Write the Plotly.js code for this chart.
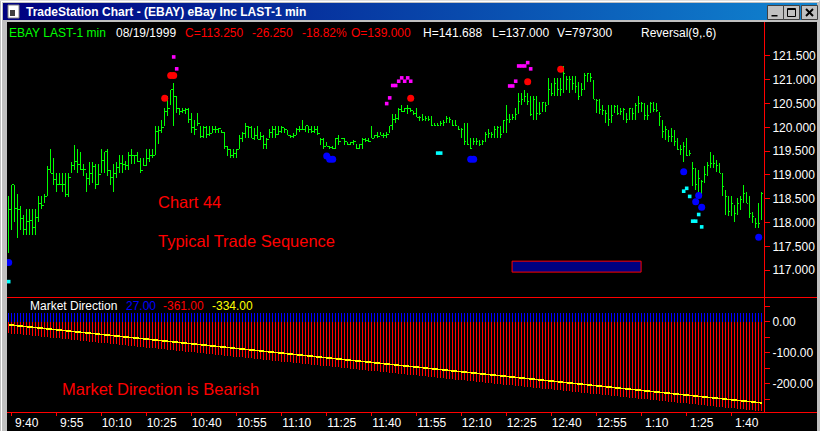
<!DOCTYPE html>
<html><head><meta charset="utf-8">
<script src="https://cdn.plot.ly/plotly-3.0.1.min.js"></script>
<style>
html,body{margin:0;padding:0;background:#c0c0c0;overflow:hidden;}
#wrap{position:relative;width:820px;height:431px;background:#c0c0c0;}
#hl1{position:absolute;left:0;top:0;width:820px;height:1px;background:#dfdfdf;}
#hl2{position:absolute;left:1px;top:1px;width:818px;height:1px;background:#fff;}
#vl1{position:absolute;left:1px;top:1px;width:1px;height:430px;background:#fff;}
#tb{position:absolute;left:3px;top:3px;width:814px;height:17px;background:linear-gradient(to right,#000080,#1084d0);}
#blk{position:absolute;left:7px;top:22px;width:810px;height:409px;background:#000;}
#chart{position:absolute;left:0;top:0;width:820px;height:431px;}
path.js-line{shape-rendering:crispEdges;}
</style></head>
<body>
<div id="wrap"><div id="hl1"></div><div id="hl2"></div><div id="vl1"></div><div id="tb"></div><div id="blk"></div><div id="chart"></div></div>
<script>
// ---------------- data ----------------
const firstBarTime = "9:39";
const timeLabels = ["9:40","9:55","10:10","10:25","10:40","10:55","11:10","11:25","11:40","11:55","12:10","12:25","12:40","12:55","1:10","1:25","1:40"];
const priceTickVals = [117,117.5,118,118.5,119,119.5,120,120.5,121,121.5];
const priceTickText = ["117.000","117.500","118.000","118.500","119.000","119.500","120.000","120.500","121.000","121.500"];
const mdTickVals = [50,0,-50,-100,-150,-200,-250];
const mdTickText = ["","0.00","","-100.00","","-200.00",""];

const high = [
118.55,118.79,118.79,118.60,118.35,118.16,118.28,118.28,118.28,118.28,
118.55,118.55,118.60,119.18,119.55,119.35,119.04,119.04,119.04,119.04,
119.04,119.28,119.63,119.55,119.49,119.23,119.04,119.28,119.28,119.23,
119.23,119.55,119.49,119.55,119.11,119.23,119.28,119.41,119.41,119.29,
119.49,119.55,119.41,119.49,119.35,119.35,119.55,119.55,119.55,120.03,
120.03,120.16,120.40,120.65,120.79,120.93,120.65,120.40,120.40,120.40,
120.40,120.30,120.16,120.30,120.03,120.03,120.03,120.03,120.03,120.03,
119.98,119.95,119.91,119.61,119.54,119.54,119.54,119.84,119.91,120.09,
120.03,120.03,119.98,120.03,119.91,119.84,119.78,119.96,120.03,120.03,
120.03,120.03,119.98,119.95,119.84,119.89,119.98,120.03,120.16,120.03,
120.03,120.03,120.03,120.03,119.77,119.77,119.70,119.61,119.61,119.77,
119.84,119.77,119.77,119.70,119.70,119.74,119.65,119.65,119.77,119.77,
119.77,120.03,119.84,119.91,119.91,119.89,119.91,120.03,120.28,120.28,
120.40,120.47,120.40,120.47,120.40,120.35,120.40,120.23,120.28,120.23,
120.23,120.23,120.09,120.09,120.14,120.16,120.23,120.21,120.16,120.16,
120.03,119.98,120.09,120.09,119.77,119.77,119.77,119.74,119.74,119.91,
119.96,119.91,120.03,120.03,120.03,120.16,120.47,120.28,120.28,120.40,
120.72,120.72,120.79,120.72,120.65,120.65,120.65,120.54,120.54,120.54,
121.03,120.93,121.03,121.03,121.03,121.28,121.07,121.07,121.07,121.07,
120.96,120.93,121.15,121.15,121.15,121.00,120.59,120.59,120.47,120.37,
120.47,120.47,120.47,120.47,120.40,120.40,120.30,120.40,120.40,120.51,
120.65,120.54,120.51,120.47,120.54,120.54,120.52,120.33,120.16,120.02,
119.95,119.98,119.95,119.77,119.63,119.70,119.77,119.53,119.28,119.14,
119.11,118.90,119.18,119.28,119.49,119.42,119.32,119.25,119.04,118.69,
118.55,118.55,118.37,118.51,118.55,118.79,118.65,118.55,118.23,118.09,
118.41,118.65];
const low = [
117.37,117.85,118.02,117.68,117.85,117.75,117.75,117.75,117.75,117.75,
118.02,118.28,118.41,118.55,119.04,118.79,118.65,118.79,118.65,118.53,
118.53,119.04,119.11,119.04,119.11,118.98,118.65,118.79,118.84,118.71,
118.79,119.04,119.04,118.98,118.79,118.65,118.93,119.04,119.04,119.11,
119.11,119.23,119.23,119.28,119.04,119.18,119.18,119.28,119.35,119.41,
119.65,119.88,120.02,120.23,120.47,120.02,120.30,120.26,120.30,120.28,
120.09,119.89,119.84,120.03,119.77,119.77,119.77,119.82,119.88,119.88,
119.88,119.88,119.54,119.40,119.35,119.35,119.35,119.54,119.70,119.77,
119.77,119.77,119.74,119.75,119.74,119.54,119.54,119.77,119.77,119.77,
119.84,119.88,119.88,119.84,119.77,119.77,119.84,119.91,119.95,119.91,
119.89,119.89,119.89,119.84,119.63,119.54,119.60,119.54,119.54,119.54,
119.63,119.75,119.63,119.63,119.63,119.63,119.54,119.54,119.54,119.70,
119.70,119.77,119.77,119.77,119.84,119.77,119.77,119.88,119.95,120.09,
120.16,120.33,120.33,120.28,120.33,120.26,120.21,120.14,120.14,120.14,
120.14,120.02,120.02,120.02,120.02,120.03,120.09,120.09,120.02,120.02,
119.95,119.77,119.63,119.63,119.54,119.63,119.63,119.60,119.63,119.70,
119.77,119.77,119.77,119.77,119.77,119.89,119.89,120.09,120.16,120.16,
120.28,120.47,120.54,120.47,120.23,120.16,120.16,120.26,120.33,120.33,
120.47,120.65,120.65,120.65,120.65,120.72,120.79,120.72,120.79,120.72,
120.58,120.65,120.79,120.96,120.96,120.59,120.30,120.28,120.26,120.09,
120.02,120.09,120.30,120.26,120.26,120.16,120.09,120.16,120.16,120.16,
120.30,120.33,120.16,120.16,120.30,120.33,120.33,120.02,119.77,119.74,
119.70,119.70,119.60,119.53,119.42,119.28,119.39,119.39,118.76,118.69,
118.65,118.55,118.83,118.97,119.14,119.14,119.07,119.04,118.55,118.16,
118.13,118.13,118.02,118.16,118.27,118.41,118.41,118.09,117.99,117.88,
117.88,118.06];
const close = [
118.28,118.79,118.30,118.28,118.09,117.85,118.02,118.05,117.90,118.10,
118.40,118.35,118.55,119.11,119.04,118.90,118.79,118.79,118.79,118.60,
118.95,119.20,119.28,119.23,119.11,119.11,118.93,119.04,119.18,118.80,
119.00,119.30,119.49,119.10,118.95,119.04,119.15,119.25,119.23,119.20,
119.41,119.41,119.41,119.28,119.10,119.20,119.35,119.41,119.41,119.91,
119.94,120.00,120.33,120.40,120.79,120.65,120.40,120.33,120.35,120.38,
120.16,120.00,119.95,120.09,119.80,120.00,119.85,119.88,119.95,119.95,
119.98,119.90,119.60,119.54,119.40,119.45,119.54,119.77,119.88,120.02,
120.00,119.77,119.84,119.75,119.80,119.65,119.74,119.90,119.96,119.85,
119.91,120.00,119.95,119.84,119.80,119.84,119.96,119.95,119.96,120.03,
119.95,119.92,119.95,119.88,119.74,119.60,119.60,119.58,119.56,119.77,
119.70,119.76,119.70,119.65,119.68,119.70,119.56,119.65,119.74,119.72,
119.70,119.77,119.84,119.80,119.84,119.84,119.85,120.03,120.16,120.19,
120.37,120.33,120.40,120.40,120.35,120.30,120.21,120.21,120.16,120.18,
120.16,120.03,120.03,120.05,120.09,120.10,120.19,120.16,120.05,120.03,
119.96,119.95,119.70,119.65,119.56,119.70,119.70,119.65,119.70,119.85,
119.88,119.85,119.96,120.00,119.85,120.14,120.16,120.16,120.20,120.28,
120.55,120.59,120.65,120.54,120.28,120.58,120.30,120.30,120.53,120.45,
120.79,120.72,120.93,120.80,120.79,121.14,121.00,121.00,120.93,120.85,
120.65,120.79,121.10,121.14,121.05,120.59,120.56,120.37,120.35,120.30,
120.16,120.25,120.44,120.30,120.33,120.37,120.16,120.40,120.30,120.47,
120.51,120.51,120.26,120.25,120.51,120.37,120.35,120.23,119.91,119.95,
119.80,119.81,119.70,119.54,119.53,119.60,119.42,119.45,119.14,118.79,
118.93,118.86,119.00,119.21,119.25,119.25,119.21,119.04,118.76,118.55,
118.23,118.41,118.20,118.41,118.48,118.62,118.41,118.20,118.13,117.99,
117.99,118.62];

// Reversal(9,.6) signal marks: bar index and price
const redBar = [52,54,55,134,173,184];
const redPrice = [120.61,121.09,121.09,120.61,120.96,121.22];
const blueBar = [0,106,107,108,154,155,225,229,230,231,250];
const bluePrice = [117.16,119.40,119.33,119.33,119.33,119.33,119.07,118.44,118.57,118.32,117.69];
const magentaBar = [55,56,126,127,128,129,130,131,132,133,134,167,168,169,170,171,172,173,174];
const magentaPrice = [121.48,121.23,120.50,120.62,120.88,120.88,120.97,121.04,120.97,121.04,120.97,120.87,120.87,120.97,121.29,121.29,121.29,121.36,121.23];
const cyanBar = [0,143,144,225,226,227,228,229,230,231];
const cyanPrice = [116.76,119.46,119.46,118.66,118.72,118.55,118.03,118.03,118.17,117.91];

// Market Direction panel
const mdUp = [
27,27,27,27,27,27,27,27,27,27,27,27,27,27,27,27,27,27,27,27,
27,27,27,27,27,27,27,27,27,27,27,27,27,27,27,27,27,27,27,27,
27,27,27,27,27,27,27,27,27,27,27,27,27,27,27,27,27,27,27,27,
27,27,27,27,27,27,27,27,27,27,27,27,27,27,27,27,27,27,27,27,
27,27,27,27,27,27,27,27,27,27,27,27,27,27,27,27,27,27,27,27,
27,27,27,27,27,27,27,27,27,27,27,27,27,27,27,27,27,27,27,27,
27,27,27,27,27,27,27,27,27,27,27,27,27,27,27,27,27,27,27,27,
27,27,27,27,27,27,27,27,27,27,27,27,27,27,27,27,27,27,27,27,
27,27,27,27,27,27,27,27,27,27,27,27,27,27,27,27,27,27,27,27,
27,27,27,27,27,27,27,27,27,27,27,27,27,27,27,27,27,27,27,27,
27,27,27,27,27,27,27,27,27,27,27,27,27,27,27,27,27,27,27,27,
27,27,27,27,27,27,27,27,27,27,27,27,27,27,27,27,27,27,27,27,
27,27,27,27,27,27,27,27,27,27,27,27];
const mdDown = [
-37,-38,-39,-40,-41,-42,-43,-44,-45,-46,-47,-48,-49,-50,-51,-52,-53,-54,-55,-56,
-57,-58,-59,-60,-61,-62,-63,-64,-65,-66,-67,-68,-69,-70,-71,-72,-73,-74,-75,-76,
-77,-78,-79,-80,-81,-82,-83,-84,-85,-86,-87,-88,-89,-90,-91,-92,-93,-94,-95,-96,
-97,-98,-99,-100,-101,-102,-103,-104,-105,-106,-107,-108,-109,-110,-111,-112,-113,-114,-115,-116,
-117,-118,-119,-120,-121,-122,-123,-124,-125,-126,-127,-128,-129,-130,-131,-132,-133,-134,-135,-136,
-137,-138,-139,-140,-141,-142,-143,-144,-145,-146,-147,-148,-149,-150,-151,-152,-153,-154,-155,-156,
-157,-158,-159,-160,-161,-162,-163,-164,-165,-166,-167,-168,-169,-170,-171,-172,-173,-174,-175,-176,
-177,-178,-179,-180,-181,-182,-183,-184,-185,-186,-187,-188,-189,-190,-191,-192,-193,-194,-195,-196,
-197,-198,-199,-200,-201,-202,-203,-204,-205,-206,-207,-208,-209,-210,-211,-212,-213,-214,-215,-216,
-217,-218,-219,-220,-221,-222,-223,-224,-225,-226,-227,-228,-229,-230,-231,-232,-233,-234,-235,-236,
-237,-238,-239,-240,-241,-242,-243,-244,-245,-246,-247,-248,-249,-250,-251,-252,-253,-254,-255,-256,
-257,-258,-259,-260,-261,-262,-263,-264,-265,-266,-267,-268,-269,-270,-271,-272,-273,-274,-275,-276,
-277,-278,-279,-280,-281,-282,-283,-284,-285,-286,-287,-288];
const mdNet = [
-10,-11,-12,-13,-14,-15,-16,-17,-18,-19,-20,-21,-22,-23,-24,-25,-26,-27,-28,-29,
-30,-31,-32,-33,-34,-35,-36,-37,-38,-39,-40,-41,-42,-43,-44,-45,-46,-47,-48,-49,
-50,-51,-52,-53,-54,-55,-56,-57,-58,-59,-60,-61,-62,-63,-64,-65,-66,-67,-68,-69,
-70,-71,-72,-73,-74,-75,-76,-77,-78,-79,-80,-81,-82,-83,-84,-85,-86,-87,-88,-89,
-90,-91,-92,-93,-94,-95,-96,-97,-98,-99,-100,-101,-102,-103,-104,-105,-106,-107,-108,-109,
-110,-111,-112,-113,-114,-115,-116,-117,-118,-119,-120,-121,-122,-123,-124,-125,-126,-127,-128,-129,
-130,-131,-132,-133,-134,-135,-136,-137,-138,-139,-140,-141,-142,-143,-144,-145,-146,-147,-148,-149,
-150,-151,-152,-153,-154,-155,-156,-157,-158,-159,-160,-161,-162,-163,-164,-165,-166,-167,-168,-169,
-170,-171,-172,-173,-174,-175,-176,-177,-178,-179,-180,-181,-182,-183,-184,-185,-186,-187,-188,-189,
-190,-191,-192,-193,-194,-195,-196,-197,-198,-199,-200,-201,-202,-203,-204,-205,-206,-207,-208,-209,
-210,-211,-212,-213,-214,-215,-216,-217,-218,-219,-220,-221,-222,-223,-224,-225,-226,-227,-228,-229,
-230,-231,-232,-233,-234,-235,-236,-237,-238,-239,-240,-241,-242,-243,-244,-245,-246,-247,-248,-249,
-250,-251,-252,-253,-254,-255,-256,-257,-258,-259,-260,-261];

// ---------------- build ----------------
function toMin(s){const p=s.split(":");let h=+p[0];if(h<9)h+=12;return h*60+(+p[1]);}
const t0 = toMin(firstBarTime);
const tickPos = timeLabels.map(s=>toMin(s)-t0);
const n = high.length;

// HLC bars as vertical segment + right close tick
const bx=[],by=[];
for(let i=0;i<n;i++){bx.push(i,i,null,i,i+0.6,null);by.push(low[i],high[i],null,close[i],close[i],null);}
function stems(vals){const x=[],y=[];vals.forEach((v,i)=>{x.push(i,i,null);y.push(0,v,null);});return {x,y};}
const up=stems(mdUp), dn=stems(mdDown);
const idx=mdNet.map((v,i)=>i);

// page pixel -> paper helpers (plot area 7..764 x 22..412)
const L=7,R=764,T=22,B=412;
const px=x=>(x-L)/(R-L), py=y=>(B-y)/(B-T);
const FF='Liberation Sans, Arial, sans-serif';

const traces=[
 {type:'scatter',mode:'lines',x:bx,y:by,xaxis:'x',yaxis:'y',line:{color:'#00ff00',width:1},hoverinfo:'skip',connectgaps:false},
 {type:'scatter',mode:'markers',x:redBar,y:redPrice,yaxis:'y',marker:{symbol:'circle',size:7,color:'#ff0000'}},
 {type:'scatter',mode:'markers',x:blueBar,y:bluePrice,yaxis:'y',marker:{symbol:'circle',size:7,color:'#0000ff'}},
 {type:'scatter',mode:'markers',x:magentaBar,y:magentaPrice,yaxis:'y',marker:{symbol:'square',size:3.6,color:'#ff00ff'}},
 {type:'scatter',mode:'markers',x:cyanBar,y:cyanPrice,yaxis:'y',marker:{symbol:'square',size:3.6,color:'#00ffff'}},
 {type:'scatter',mode:'lines',x:up.x,y:up.y,yaxis:'y2',line:{color:'#0000ff',width:1},connectgaps:false},
 {type:'scatter',mode:'lines',x:dn.x,y:dn.y,yaxis:'y2',line:{color:'#ff0000',width:1},connectgaps:false},
 {type:'scatter',mode:'lines',x:idx,y:mdNet,yaxis:'y2',line:{color:'#ffff00',width:1.6}}
];

function ann(text,x,y,color,size,extra){return Object.assign({text:text,xref:'paper',yref:'paper',x:px(x),y:py(y),xanchor:'left',yanchor:'middle',showarrow:false,font:{family:FF,size:size,color:color},borderpad:0},extra||{});}
const annotations=[
 ann('<b>TradeStation Chart - (EBAY) eBay Inc LAST-1 min</b>',25,12,'#ffffff',12),
 ann('EBAY LAST-1 min',7.5,33,'#00ff00',12),
 ann('08/19/1999',115,33,'#ffffff',12),
 ann('C=113.250',184,33,'#ff0000',12),
 ann('-26.250',251,33,'#ff0000',12),
 ann('-18.82%',301,33,'#ff0000',12),
 ann('O=139.000',349.5,33,'#ff0000',12),
 ann('H=141.688',422,33,'#ffffff',12),
 ann('L=137.000',490.5,33,'#ffffff',12),
 ann('V=797300',555.5,33,'#ffffff',12),
 ann('Reversal(9,.6)',639.5,33,'#ffffff',12),
 ann('Chart 44',157,202,'#ff0000',16.5),
 ann('Typical Trade Sequence',157,241,'#ff0000',16.5),
 ann('Market Direction',29,306,'#ffffff',12),
 ann('27.00',124.5,306,'#0000ff',12),
 ann('-361.00',161.5,306,'#ff0000',12),
 ann('-334.00',210.5,306,'#ffff00',12),
 ann('Market Direction is Bearish',61,389,'#ff0000',16.5)
];

const shapes=[
 // navy drawing box
 {type:'rect',xref:'x',yref:'y',x0:167.8,x1:210.8,y0:116.96,y1:117.19,fillcolor:'#000080',line:{color:'#ff0000',width:1}},
 // panel separator and bottom frame line
 {type:'line',xref:'paper',yref:'paper',x0:0,x1:px(817),y0:py(297.5),y1:py(297.5),line:{color:'#ff0000',width:1}},
 {type:'line',xref:'paper',yref:'paper',x0:0,x1:px(817),y0:py(412.5),y1:py(412.5),line:{color:'#ff0000',width:1}},
 // window buttons
 {type:'rect',xref:'paper',yref:'paper',x0:px(767.5),x1:px(783.5),y0:py(19.5),y1:py(5.5),fillcolor:'#c0c0c0',line:{color:'#404040',width:1}},
 {type:'rect',xref:'paper',yref:'paper',x0:px(783.5),x1:px(799.5),y0:py(19.5),y1:py(5.5),fillcolor:'#c0c0c0',line:{color:'#404040',width:1}},
 {type:'rect',xref:'paper',yref:'paper',x0:px(801.5),x1:px(817.5),y0:py(19.5),y1:py(5.5),fillcolor:'#c0c0c0',line:{color:'#404040',width:1}},
 {type:'rect',xref:'paper',yref:'paper',x0:px(771.5),x1:px(777.5),y0:py(16.5),y1:py(15),fillcolor:'#000',line:{width:0}},
 {type:'rect',xref:'paper',yref:'paper',x0:px(787.5),x1:px(795.5),y0:py(16.5),y1:py(8.5),fillcolor:'rgba(0,0,0,0)',line:{color:'#000',width:1}},
 {type:'line',xref:'paper',yref:'paper',x0:px(787.5),x1:px(795.5),y0:py(9.5),y1:py(9.5),line:{color:'#000',width:1}},
 {type:'line',xref:'paper',yref:'paper',x0:px(806),x1:px(813),y0:py(9),y1:py(16),line:{color:'#000',width:2}},
 {type:'line',xref:'paper',yref:'paper',x0:px(806),x1:px(813),y0:py(16),y1:py(9),line:{color:'#000',width:2}},
 // title icon
 {type:'rect',xref:'paper',yref:'paper',x0:px(8),x1:px(19),y0:py(18),y1:py(5),fillcolor:'#ffffff',line:{color:'#808080',width:1}},
 {type:'rect',xref:'paper',yref:'paper',x0:px(10),x1:px(15),y0:py(16),y1:py(10),fillcolor:'#404040',line:{width:0}}
];

const axisFont={family:FF,size:12,color:'#ffffff'};
const layout={
 width:820,height:431,margin:{l:7,r:56,t:22,b:19,pad:0},
 paper_bgcolor:'rgba(0,0,0,0)',plot_bgcolor:'#000000',showlegend:false,
 xaxis:{anchor:'y2',domain:[0,1],range:[-0.567,251.77],tickvals:tickPos,ticktext:timeLabels,ticks:'outside',ticklen:3,tickcolor:'#ff0000',
   showline:false,showgrid:false,zeroline:false,tickfont:axisFont,ticklabelshift:15,ticklabelstandoff:-3},
 yaxis:{domain:[py(297),1],anchor:'x',side:'right',range:[116.437,122.214],tickvals:priceTickVals,ticktext:priceTickText,
   ticks:'outside',ticklen:5,tickcolor:'#ff0000',showline:true,linecolor:'#ff0000',linewidth:1,showgrid:false,zeroline:false,tickfont:axisFont},
 yaxis2:{domain:[0,py(298)],anchor:'x',side:'right',range:[-290.4,76.2],tickvals:mdTickVals,ticktext:mdTickText,
   ticks:'outside',ticklen:5,tickcolor:'#ff0000',showline:true,linecolor:'#ff0000',linewidth:1,showgrid:false,zeroline:false,tickfont:axisFont},
 annotations:annotations,shapes:shapes
};
Plotly.newPlot('chart',traces,layout,{staticPlot:true,displayModeBar:false});
</script>
</body></html>
